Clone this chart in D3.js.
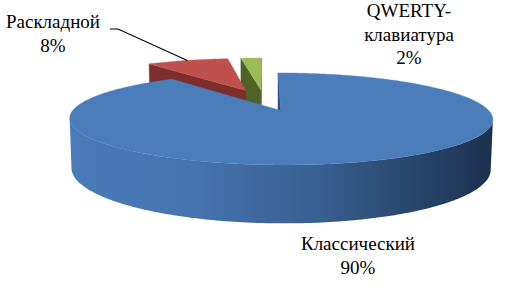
<!DOCTYPE html>
<html><head><meta charset="utf-8">
<script src="https://cdn.jsdelivr.net/npm/d3@7"></script>
<style>body{margin:0;background:#fff}svg{display:block}</style>
</head><body><svg id="c" width="528" height="290"></svg>
<script>
const categories = ["Классический", "Раскладной", "QWERTY-клавиатура"];
const values = [90, 8, 2];
const percentLabels = ["90%", "8%", "2%"];
const labelLines = [["Классический"], ["Раскладной"], ["QWERTY-", "клавиатура"]];
const topColors = ["#4a7dba", "#c0504d", "#9bbb59"];
const sideColors = ["#2c4e7c", "#7e2e2c", "#4f6228"];

const svg = d3.select("#c");
const K = 199, PHI = 11.8 * Math.PI / 180, DIST = 5.59, DEPTH = 0.24, EXPLODE = 0.26, CX = 264, CY = 100;
const sinP = Math.sin(PHI), cosP = Math.cos(PHI);
const cam = [0, DIST * sinP, DIST * cosP];
function proj(p) {
  const [X, Y, Z] = p;
  const u = Y * cosP - Z * sinP, w = Y * sinP + Z * cosP;
  const s = DIST / (DIST - w);
  return [CX + K * X * s, CY - K * u * s];
}
const line = d3.line();

const defs = svg.append("defs");
const g = defs.append("linearGradient").attr("id", "blueSide")
  .attr("gradientUnits", "userSpaceOnUse").attr("x1", 70).attr("x2", 494).attr("y1", 0).attr("y2", 0);
[[0, "#4a7aba"], [0.3, "#4573ae"], [0.6, "#375e8f"], [1, "#1c304d"]].forEach(([o, c]) =>
  g.append("stop").attr("offset", o).attr("stop-color", c));

const pie = d3.pie().sort(null).startAngle(0).endAngle(2 * Math.PI);
const arcs = pie(values).map((a, i) => {
  const mid = (a.startAngle + a.endAngle) / 2;
  return { ...a, i, ox: EXPLODE * Math.sin(mid), oz: -EXPLODE * Math.cos(mid), mid };
});
function pt(a, th, r, y) { return [a.ox + r * Math.sin(th), y, a.oz - r * Math.cos(th)]; }
function visible(P, n) {
  return (cam[0] - P[0]) * n[0] + (cam[1] - P[1]) * n[1] + (cam[2] - P[2]) * n[2] > 0;
}

arcs.slice().sort((a, b) => a.oz - b.oz).forEach(a => {
  const grp = svg.append("g");
  const a0 = a.startAngle, a1 = a.endAngle;
  const steps = Math.max(4, Math.ceil((a1 - a0) / (Math.PI / 360)));
  const ths = d3.range(steps + 1).map(k => a0 + (a1 - a0) * k / steps);
  const apexT = [a.ox, 0, a.oz], apexB = [a.ox, -DEPTH, a.oz];
  [[a0, [-Math.cos(a0), 0, -Math.sin(a0)]], [a1, [Math.cos(a1), 0, Math.sin(a1)]]].forEach(([th, n]) => {
    if (visible(apexT, n)) {
      const poly = [apexT, pt(a, th, 1, 0), pt(a, th, 1, -DEPTH), apexB].map(proj);
      grp.append("path").attr("d", line(poly) + "Z").attr("fill", sideColors[a.i])
        .attr("stroke", sideColors[a.i]).attr("stroke-width", 0.5);
    }
  });
  let runs = [], cur = null;
  ths.forEach(th => {
    const P = pt(a, th, 1, 0), n = [Math.sin(th), 0, -Math.cos(th)];
    if (visible(P, n)) { if (!cur) { cur = []; runs.push(cur); } cur.push(th); } else cur = null;
  });
  runs.forEach(run => {
    if (run.length < 2) return;
    const topPts = run.map(th => proj(pt(a, th, 1, 0)));
    const botPts = run.slice().reverse().map(th => proj(pt(a, th, 1, -DEPTH)));
    grp.append("path").attr("d", line(topPts.concat(botPts)) + "Z")
      .attr("fill", a.i === 0 ? "url(#blueSide)" : sideColors[a.i]);
  });
  const topPoly = [proj(apexT)].concat(ths.map(th => proj(pt(a, th, 1, 0))));
  grp.append("path").attr("d", line(topPoly) + "Z").attr("fill", topColors[a.i])
    .attr("stroke", topColors[a.i]).attr("stroke-width", 0.4);
});

const labelPos = [[358, 250], [53, 28], [409, 17]];
const LH = 23.5;
arcs.forEach(a => {
  const lines = labelLines[a.i].concat([percentLabels[a.i]]);
  const t = svg.append("text").attr("text-anchor", "middle")
    .style("font-family", "'Liberation Serif', 'Times New Roman', serif")
    .attr("font-size", 19).attr("fill", "#000");
  lines.forEach((l, k) => t.append("tspan").attr("x", labelPos[a.i][0]).attr("y", labelPos[a.i][1] + k * LH).text(l));
});
const red = arcs[1];
const end = proj(pt(red, red.mid, 1, 0));
svg.append("path").attr("d", line([[110, 29], [118, 29], end]))
  .attr("fill", "none").attr("stroke", "#000").attr("stroke-width", 1.1);
</script></body></html>
